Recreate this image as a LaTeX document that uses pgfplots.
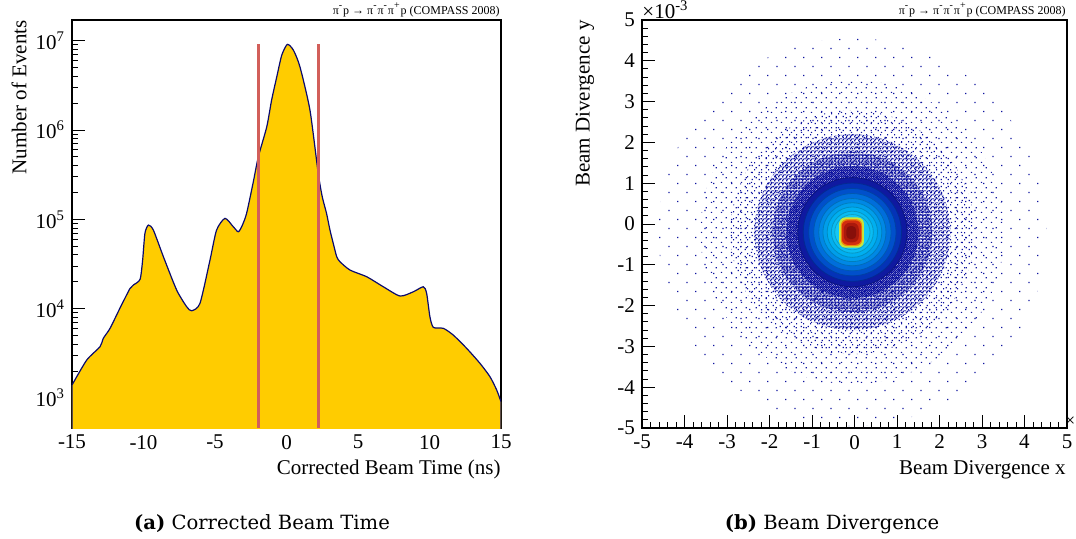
\documentclass[border=0pt]{standalone}
\usepackage{fontspec}
\setmainfont{Liberation Serif}
\newfontfamily\capfont{DejaVu Serif}
\usepackage{pgfplots}
\pgfplotsset{compat=1.18}
\usetikzlibrary{patterns}

\definecolor{histfill}{RGB}{255,204,0}
\definecolor{histline}{RGB}{10,10,110}
\definecolor{cutred}{RGB}{210,95,90}
\definecolor{navyc}{RGB}{15,20,160}

% speckle tiles for the sparse outer part of the 2D histogram
\pgfdeclarepatternformonly{speckA}{\pgfqpoint{0pt}{0pt}}{\pgfqpoint{9pt}{9pt}}{\pgfqpoint{9pt}{9pt}}{%
  \pgfpathrectangle{\pgfqpoint{1.2pt}{2.1pt}}{\pgfqpoint{0.65pt}{0.65pt}}%
  \pgfpathrectangle{\pgfqpoint{5.9pt}{6.8pt}}{\pgfqpoint{0.65pt}{0.65pt}}%
  \pgfusepath{fill}}
\pgfdeclarepatternformonly{speckB}{\pgfqpoint{0pt}{0pt}}{\pgfqpoint{5pt}{5pt}}{\pgfqpoint{5pt}{5pt}}{%
  \pgfpathrectangle{\pgfqpoint{3.1pt}{0.4pt}}{\pgfqpoint{0.65pt}{0.65pt}}%
  \pgfpathrectangle{\pgfqpoint{0.5pt}{3.3pt}}{\pgfqpoint{0.65pt}{0.65pt}}%
  \pgfusepath{fill}}
\pgfdeclarepatternformonly{speckC}{\pgfqpoint{0pt}{0pt}}{\pgfqpoint{3.5pt}{3.5pt}}{\pgfqpoint{3.5pt}{3.5pt}}{%
  \pgfpathrectangle{\pgfqpoint{1.5pt}{1.1pt}}{\pgfqpoint{0.65pt}{0.65pt}}%
  \pgfpathrectangle{\pgfqpoint{2.9pt}{2.7pt}}{\pgfqpoint{0.65pt}{0.65pt}}%
  \pgfusepath{fill}}
\pgfdeclarepatternformonly{speckD}{\pgfqpoint{0pt}{0pt}}{\pgfqpoint{2.2pt}{2.2pt}}{\pgfqpoint{2.2pt}{2.2pt}}{%
  \pgfpathrectangle{\pgfqpoint{0.2pt}{0.4pt}}{\pgfqpoint{0.65pt}{0.65pt}}%
  \pgfpathrectangle{\pgfqpoint{1.2pt}{1.5pt}}{\pgfqpoint{0.65pt}{0.65pt}}%
  \pgfpathrectangle{\pgfqpoint{1.5pt}{0.1pt}}{\pgfqpoint{0.65pt}{0.65pt}}%
  \pgfusepath{fill}}
\pgfdeclarepatternformonly{speckE}{\pgfqpoint{0pt}{0pt}}{\pgfqpoint{1.6pt}{1.6pt}}{\pgfqpoint{1.6pt}{1.6pt}}{%
  \pgfpathrectangle{\pgfqpoint{0.0pt}{0.2pt}}{\pgfqpoint{0.7pt}{0.7pt}}%
  \pgfpathrectangle{\pgfqpoint{0.8pt}{0.8pt}}{\pgfqpoint{0.7pt}{0.7pt}}%
  \pgfpathrectangle{\pgfqpoint{0.9pt}{0.0pt}}{\pgfqpoint{0.6pt}{0.6pt}}%
  \pgfusepath{fill}}
\pgfdeclarepatternformonly{speckF}{\pgfqpoint{0pt}{0pt}}{\pgfqpoint{1.2pt}{1.2pt}}{\pgfqpoint{1.2pt}{1.2pt}}{%
  \pgfpathrectangle{\pgfqpoint{0.0pt}{0.0pt}}{\pgfqpoint{0.7pt}{0.7pt}}%
  \pgfpathrectangle{\pgfqpoint{0.6pt}{0.6pt}}{\pgfqpoint{0.6pt}{0.6pt}}%
  \pgfusepath{fill}}

\pgfplotsset{
  rootax/.style={
    scale only axis, anchor=south west,
    axis line style={line width=0.6pt},
    tick pos=left, tick align=inside,
    major tick length=6.5pt, minor tick length=3.2pt,
    every tick/.style={black, line width=0.5pt},
    tick label style={font=\fontsize{10.5}{12}\selectfont},
  },
  speck/.style n args={2}{only marks, mark=*, mark size=#1,
    mark options={draw opacity=0, line width=0pt, pattern=#2, pattern color=navyc}},
}

\begin{document}
\begin{tikzpicture}
\useasboundingbox (0,0) rectangle (538pt,269pt);

% (a) corrected beam time
\begin{axis}[rootax, at={(36pt,55pt)},
  width=214.5pt, height=204pt,
  xmin=-15, xmax=15, ymode=log, ymin=460, ymax=1.71e7,
  xtick={-15,-10,...,15}, xticklabels={-15,-10,-5,0,5,10,15},
  minor x tick num=4,
  ytick={1e3,1e4,1e5,1e6,1e7},
  yticklabels={10\textsuperscript{3},10\textsuperscript{4},10\textsuperscript{5},10\textsuperscript{6},10\textsuperscript{7}},
  minor ytick={500,600,700,800,900,2000,3000,4000,5000,6000,7000,8000,9000,
    20000,30000,40000,50000,60000,70000,80000,90000,
    200000,300000,400000,500000,600000,700000,800000,900000,
    2e6,3e6,4e6,5e6,6e6,7e6,8e6,9e6},
]
\addplot[histline, line width=0.6pt, fill=histfill, smooth, tension=0.4] coordinates {
 (-15,1393) (-13.97,2655) (-13.04,3741) (-12.81,4645) (-12.34,6012)
 (-11.64,10170) (-10.94,16870) (-10.71,18370) (-10.24,21280) (-10.06,34990)
 (-9.9,69660) (-9.66,86300) (-9.31,75860) (-8.61,38190) (-7.68,16140)
 (-6.98,10500) (-6.63,9462) (-6.05,11460) (-5.35,34990) (-4.89,75860)
 (-4.3,102600) (-3.72,82600) (-3.37,72610) (-3.1,85110) (-2.79,116700)
 (-2.32,263600) (-1.97,502300) (-1.38,1089000) (-1.04,2170000) (-0.68,3954000)
 (-0.33,6918000) (0.06,9120000) (0.48,7870000) (0.94,5117000) (1.64,1675000)
 (2.22,327300) (2.5,179100) (2.80,116700) (3.04,75860) (3.27,53830)
 (3.51,38190) (3.74,33500) (4.44,27040) (5.61,22750) (6.77,17580)
 (7.94,13840) (8.87,15450) (9.57,17580) (9.80,14830) (10.03,8110)
 (10.27,6166) (10.97,6012) (11.66,5058) (12.60,3589) (13.53,2438)
 (14.23,1726) (14.70,1225) (15,906)
} \closedcycle;
\addplot[cutred, line width=1.4pt] coordinates {(-1.97,460) (-1.97,9.1e6)};
\addplot[cutred, line width=1.4pt] coordinates {(2.22,460) (2.22,9.1e6)};
\end{axis}

% (b) beam divergence
\begin{axis}[rootax, at={(321pt,55pt)},
  width=212.5pt, height=204pt,
  xmin=-5, xmax=5, ymin=-5, ymax=5,
  clip marker paths=true,
  xtick={-5,...,5}, xticklabels={-5,-4,-3,-2,-1,0,1,2,3,4,5},
  ytick={-5,...,5}, yticklabels={-5,-4,-3,-2,-1,0,1,2,3,4,5},
  minor tick num=4,
  colormap={rootpal}{rgb255=(15,25,160) rgb255=(0,60,190) rgb255=(0,100,215)
    rgb255=(0,140,230) rgb255=(0,175,240) rgb255=(20,200,245)},
  point meta min=0, point meta max=1,
]
% speckled halo, radius in pt (about 21pt per unit)
\addplot[speck={97pt}{speckA}] coordinates {(-0.05,-0.2)};
\addplot[speck={76pt}{speckB}] coordinates {(-0.05,-0.2)};
\addplot[speck={61pt}{speckC}] coordinates {(-0.05,-0.2)};
\addplot[speck={49pt}{speckD}] coordinates {(-0.05,-0.2)};
\addplot[speck={40pt}{speckE}] coordinates {(-0.05,-0.2)};
\addplot[speck={33pt}{speckF}] coordinates {(-0.05,-0.2)};
% dense part: r in units of 1e-3, c on the palette
\addplot[scatter, only marks, mark=*, point meta=\thisrow{c},
  visualization depends on={21*\thisrow{r} \as \rr},
  scatter/@pre marker code/.append style={/tikz/mark size=\rr pt}]
  table {
  x     y    r    c
  -0.05 -0.2 1.30 0.00
  -0.05 -0.2 1.17 0.15
  -0.05 -0.2 1.04 0.30
  -0.05 -0.2 0.92 0.45
  -0.05 -0.2 0.80 0.58
  -0.05 -0.2 0.70 0.70
  -0.05 -0.2 0.60 0.80
  -0.05 -0.2 0.50 0.90
  -0.05 -0.2 0.42 1.00
};
% saturated core
\addplot[draw=none, fill={rgb,255:red,200;green,230;blue,60}, rounded corners=3pt]
  coordinates {(-0.36,-0.58) (0.22,-0.58) (0.22,0.16) (-0.36,0.16)} --cycle;
\addplot[draw=none, fill={rgb,255:red,240;green,140;blue,10}, rounded corners=3pt]
  coordinates {(-0.32,-0.54) (0.18,-0.54) (0.18,0.12) (-0.32,0.12)} --cycle;
\addplot[draw=none, fill={rgb,255:red,210;green,45;blue,15}, rounded corners=3pt]
  coordinates {(-0.30,-0.51) (0.16,-0.51) (0.16,0.09) (-0.30,0.09)} --cycle;
\addplot[draw=none, fill={rgb,255:red,170;green,25;blue,12}, rounded corners=3pt]
  coordinates {(-0.25,-0.45) (0.10,-0.45) (0.10,0.03) (-0.25,0.03)} --cycle;
\addplot[draw=none, fill={rgb,255:red,135;green,15;blue,10}, rounded corners=2pt]
  coordinates {(-0.19,-0.37) (0.04,-0.37) (0.04,-0.05) (-0.19,-0.05)} --cycle;
\end{axis}

% titles, labels, captions
\node[anchor=base east, inner sep=0, font=\fontsize{6}{7}\selectfont] at (250pt,262pt)
  {π\textsuperscript{-}p → π\textsuperscript{-}π\textsuperscript{-}π\textsuperscript{+}p (COMPASS 2008)};
\node[anchor=base east, inner sep=0, font=\fontsize{6}{7}\selectfont] at (533pt,262pt)
  {π\textsuperscript{-}p → π\textsuperscript{-}π\textsuperscript{-}π\textsuperscript{+}p (COMPASS 2008)};
\node[rotate=90, anchor=east, inner sep=0, font=\fontsize{10.5}{12}\selectfont] at (9.5pt,259pt) {Number of Events};
\node[rotate=90, anchor=east, inner sep=0, font=\fontsize{10.5}{12}\selectfont] at (292.5pt,259pt) {Beam Divergence y};
\node[anchor=base east, inner sep=0, font=\fontsize{10.5}{12}\selectfont] at (250.5pt,32pt) {Corrected Beam Time (ns)};
\node[anchor=base east, inner sep=0, font=\fontsize{10.5}{12}\selectfont] at (533pt,32pt) {Beam Divergence x};
\node[anchor=base west, inner sep=0, font=\fontsize{10.5}{12}\selectfont] at (321pt,260pt) {×10\textsuperscript{-3}};
\node[anchor=east, inner sep=0.2pt, font=\fontsize{9}{10}\selectfont] at (538pt,58pt) {×};
\node[anchor=base, font=\capfont\fontsize{9.8}{12}\selectfont] at (131pt,4.5pt) {\textbf{(a)} Corrected Beam Time};
\node[anchor=base, font=\capfont\fontsize{9.8}{12}\selectfont] at (416pt,4.5pt) {\textbf{(b)} Beam Divergence};
\end{tikzpicture}
\end{document}
